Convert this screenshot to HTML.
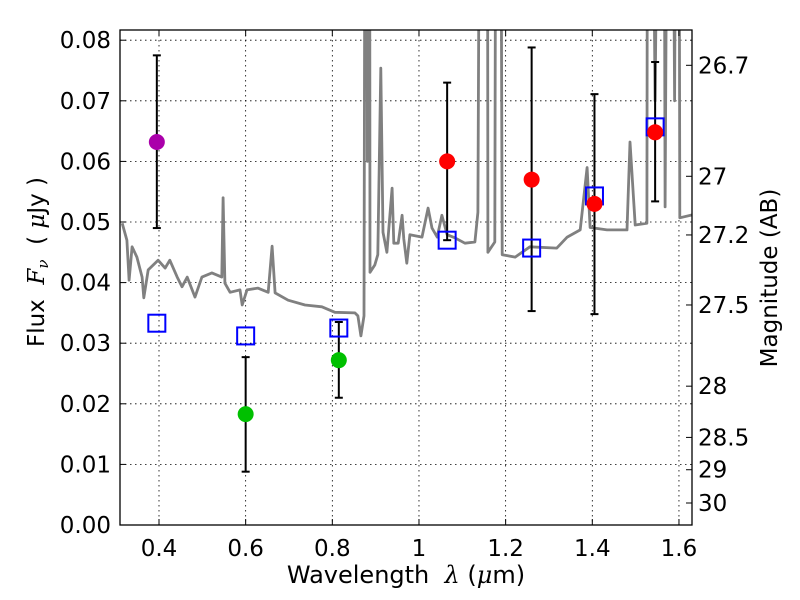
<!DOCTYPE html>
<html><head><meta charset="utf-8">
<style>
body{margin:0;background:#fff;}
svg{display:block;font-family:"DejaVu Sans","Liberation Sans",sans-serif;}
</style></head>
<body>
<svg id="chart" width="800" height="600">
<defs><clipPath id="clip"><rect x="120" y="30" width="572" height="495"/></clipPath></defs>
<rect x="0" y="0" width="800" height="600" fill="#fff"/>
<g id="grid"></g>
<g id="spec" clip-path="url(#clip)"></g>
<g id="marks" clip-path="url(#clip)"></g>
<rect x="120" y="30" width="572" height="495" fill="none" stroke="#000" stroke-width="1.3"/>
<g id="axes"></g>
<text x="406" y="583" font-size="24" text-anchor="middle" xml:space="preserve">Wavelength  <tspan font-style="italic" font-family="DejaVu Serif,serif">λ</tspan> (<tspan font-style="italic" font-family="DejaVu Serif,serif">μ</tspan>m)</text>
<text transform="translate(44,262) rotate(-90)" font-size="23" text-anchor="middle" xml:space="preserve">Flux  <tspan font-style="italic" font-family="DejaVu Serif,serif">F</tspan><tspan font-style="italic" font-size="15" dy="4" font-family="DejaVu Serif,serif">ν</tspan><tspan dy="-4">  ( </tspan><tspan font-style="italic" font-family="DejaVu Serif,serif">μ</tspan>Jy )</text>
<text transform="translate(777,278) rotate(-90)" font-size="23" text-anchor="middle">Magnitude (AB)</text>
</svg>
<script>
const xTicks=[0.4,0.6,0.8,1,1.2,1.4,1.6];
const xTickLabels=["0.4","0.6","0.8","1","1.2","1.4","1.6"];
const yTicks=[0,0.01,0.02,0.03,0.04,0.05,0.06,0.07,0.08];
const yTickLabels=["0.00","0.01","0.02","0.03","0.04","0.05","0.06","0.07","0.08"];
const magTicks=[26.7,27,27.2,27.5,28,28.5,29,30];
const magLabels=["26.7","27","27.2","27.5","28","28.5","29","30"];
const obsWave=[0.395,0.6,0.815,1.065,1.26,1.405,1.545];
const obsFlux=[0.0632,0.0183,0.0272,0.0600,0.0570,0.0530,0.0648];
const obsLo=[0.0490,0.0088,0.0210,0.0470,0.0353,0.0348,0.0534];
const obsHi=[0.0775,0.0277,0.0335,0.0730,0.0788,0.0711,0.0764];
const obsColor=["#aa00aa","#00c000","#00c000","#ff0000","#ff0000","#ff0000","#ff0000"];
const modelFlux=[0.0333,0.0312,0.0325,0.0470,0.0457,0.0543,0.0657];
const specWave=[0.315,0.326,0.331,0.338,0.349,0.361,0.365,0.375,0.398,0.414,0.425,0.442,0.453,0.465,0.483,0.499,0.522,0.545,0.548,0.552,0.564,0.587,0.592,0.603,0.628,0.652,0.661,0.668,0.698,0.737,0.776,0.806,0.852,0.859,0.866,0.873,0.878,0.881,0.885,0.887,0.898,0.905,0.912,0.917,0.926,0.938,0.942,0.952,0.961,0.965,0.972,0.979,1.007,1.021,1.030,1.042,1.053,1.065,1.083,1.106,1.129,1.136,1.145,1.157,1.159,1.175,1.180,1.185,1.192,1.222,1.256,1.318,1.342,1.372,1.388,1.395,1.434,1.480,1.487,1.499,1.526,1.529,1.545,1.563,1.568,1.579,1.590,1.598,1.602,1.632];
const specFlux=[0.0498,0.0470,0.0404,0.0459,0.0442,0.0409,0.0375,0.0421,0.0437,0.0424,0.0437,0.0409,0.0393,0.0409,0.0376,0.0409,0.0416,0.0409,0.0540,0.0399,0.0384,0.0388,0.0363,0.0388,0.0391,0.0384,0.0460,0.0383,0.0371,0.0363,0.0360,0.0351,0.0350,0.0345,0.0312,0.0345,0.2,0.060,0.2,0.0417,0.0429,0.0446,0.0754,0.0483,0.0450,0.0556,0.0465,0.0465,0.0511,0.0472,0.0432,0.0479,0.0475,0.0523,0.0490,0.0475,0.0511,0.0479,0.0474,0.0465,0.0467,0.0516,0.2,0.2,0.0450,0.0467,0.2,0.2,0.0446,0.0442,0.0459,0.0457,0.0475,0.0487,0.0590,0.0491,0.0487,0.0487,0.0632,0.0495,0.0498,0.2,0.070,0.2,0.0525,0.2,0.070,0.2,0.0507,0.0512];
const X=v=>159+(v-0.4)*433.3;
const Y=v=>525-v*6060;
const magToFlux=m=>Math.pow(10,(23.9-m)/2.5);
const NS="http://www.w3.org/2000/svg";
function mk(tag,parent,attrs){const e=document.createElementNS(NS,tag);for(const k in attrs)e.setAttribute(k,attrs[k]);parent.appendChild(e);return e;}
const grid=document.getElementById('grid'),axes=document.getElementById('axes'),spec=document.getElementById('spec'),marks=document.getElementById('marks');
xTicks.forEach((t,i)=>{
 const x=X(t);
 const g=mk('line',grid,{x1:x,x2:x,y1:30,y2:525,stroke:'#000','stroke-width':0.8,'stroke-dasharray':'1.5,3.5'});
 
 
 mk('line',axes,{x1:x,x2:x,y1:525,y2:519,stroke:'#000'});
 mk('line',axes,{x1:x,x2:x,y1:30,y2:36,stroke:'#000'});
 const tx=mk('text',axes,{x:x,y:556,'font-size':23,'text-anchor':'middle'});tx.textContent=xTickLabels[i];
 
 
});
yTicks.forEach((t,i)=>{
 const y=Y(t);
 if(t>0){const g=mk('line',grid,{x1:120,x2:692,y1:y,y2:y,stroke:'#000','stroke-width':0.8,'stroke-dasharray':'1.5,3.5'});
 
 }
 mk('line',axes,{x1:120,x2:126,y1:y,y2:y,stroke:'#000'});
 const tx=mk('text',axes,{x:111,y:y+8,'font-size':23,'text-anchor':'end'});tx.textContent=yTickLabels[i];
 
 
});
magTicks.forEach((m,i)=>{
 const y=Y(magToFlux(m));
 mk('line',axes,{x1:686,x2:692,y1:y,y2:y,stroke:'#000'});
 const tx=mk('text',axes,{x:698,y:y+8,'font-size':23});tx.textContent=magLabels[i];
 
 
});
const d=specWave.map((w,i)=>(i?'L':'M')+X(w).toFixed(1)+','+Y(specFlux[i]).toFixed(1)).join('');
const p=mk('path',spec,{d:d,fill:'none',stroke:'#808080','stroke-width':2.8,'stroke-linejoin':'round'});


obsWave.forEach((w,i)=>{
 const x=X(w);
 const e=mk('g',marks,{stroke:'#000','stroke-width':2});
 
 
 mk('line',e,{x1:x,x2:x,y1:Y(obsLo[i]),y2:Y(obsHi[i])});
 mk('line',e,{x1:x-4,x2:x+4,y1:Y(obsLo[i]),y2:Y(obsLo[i])});
 mk('line',e,{x1:x-4,x2:x+4,y1:Y(obsHi[i]),y2:Y(obsHi[i])});
});
obsWave.forEach((w,i)=>{
 const s=mk('rect',marks,{x:X(w)-8.5,y:Y(modelFlux[i])-8.5,width:17,height:17,fill:'none',stroke:'#0000ff','stroke-width':2});
 
 
});
obsWave.forEach((w,i)=>{
 const c=mk('circle',marks,{cx:X(w),cy:Y(obsFlux[i]),r:8,fill:obsColor[i]});
 
 
});
</script>
</body></html>
